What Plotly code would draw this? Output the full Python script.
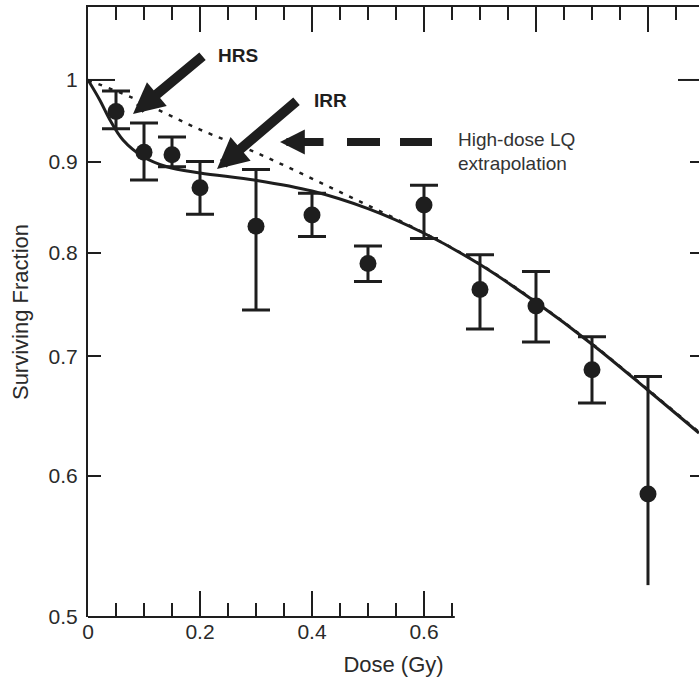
import math
import plotly.graph_objects as go

# Measured surviving fractions with asymmetric error limits
dose = [0.05, 0.10, 0.15, 0.20, 0.30, 0.40, 0.50, 0.60, 0.70, 0.80, 0.90, 1.00]
sf = [0.960, 0.911, 0.908, 0.870, 0.828, 0.840, 0.789, 0.851, 0.763, 0.747, 0.688, 0.586]
sf_upper = [0.986, 0.946, 0.929, 0.900, 0.891, 0.864, 0.807, 0.873, 0.798, 0.781, 0.718, 0.682]
sf_lower = [0.939, 0.879, 0.894, 0.841, 0.743, 0.817, 0.771, 0.815, 0.725, 0.713, 0.659, 0.521]

# Induced-repair model fit (solid curve)
ir_dose = [0.0, 0.021, 0.039, 0.0625, 0.098, 0.141, 0.20, 0.30, 0.40, 0.50,
           0.60, 0.70, 0.80, 0.90, 1.00, 1.0911]
ir_sf = [1.000, 0.9745, 0.950, 0.9255, 0.906, 0.894, 0.8869, 0.8785, 0.8665, 0.847,
         0.8205, 0.788, 0.7505, 0.711, 0.670, 0.634]

# High-dose LQ extrapolation (dotted curve)
lq_dose = [0.0, 0.08, 0.141, 0.20, 0.30, 0.40, 0.50, 0.60, 0.70, 0.80, 0.90, 1.00, 1.0911]
lq_sf = [1.000, 0.977, 0.957, 0.938, 0.9105, 0.8805, 0.8505, 0.8208, 0.7885,
         0.751, 0.7115, 0.6705, 0.6348]

x_major_bottom = [0, 0.2, 0.4, 0.6]
x_minor_bottom = [0.05, 0.10, 0.15, 0.25, 0.30, 0.35, 0.45, 0.50, 0.55, 0.65]
x_major_top = [0.2, 0.4, 0.6, 0.8, 1.0]
x_minor_top = [0.05, 0.10, 0.15, 0.25, 0.30, 0.35, 0.45, 0.50, 0.55, 0.65,
               0.70, 0.75, 0.85, 0.90, 0.95, 1.05]
y_ticks = [0.5, 0.6, 0.7, 0.8, 0.9, 1.0]
y_ticktext = ["0.5", "0.6", "0.7", "0.8", "0.9", "1"]

X_RANGE = [0, 1.0911]
Y_LOG_RANGE = [math.log10(0.5), math.log10(0.5) + 0.34193]
INK = "#1e1e1e"
TEXT = "#2a2a2a"
FONT = "Liberation Sans, Arial, Helvetica, sans-serif"

W, H = 699, 684
ML, MR, MT, MB = 88, 0, 7, 67
PW, PH = W - ML - MR, H - MT - MB


def px_x(p):
    return (p - ML) / PW


def px_y(p):
    return (H - MB - p) / PH


def paper_y_of(v):
    return (math.log10(v) - Y_LOG_RANGE[0]) / (Y_LOG_RANGE[1] - Y_LOG_RANGE[0])


err_plus = [u - s for u, s in zip(sf_upper, sf)]
err_minus = [s - l for s, l in zip(sf, sf_lower)]

fig = go.Figure()

fig.add_trace(go.Scatter(
    x=lq_dose, y=lq_sf, mode="lines",
    line=dict(color=INK, width=2.5, dash="4px,7px", shape="spline"),
    hoverinfo="skip", showlegend=False))

fig.add_trace(go.Scatter(
    x=ir_dose, y=ir_sf, mode="lines",
    line=dict(color=INK, width=3, shape="spline"),
    hoverinfo="skip", showlegend=False))

# all points but the last carry capped error bars
fig.add_trace(go.Scatter(
    x=dose[:-1], y=sf[:-1], mode="markers",
    marker=dict(color=INK, size=17),
    error_y=dict(type="data", symmetric=False, array=err_plus[:-1],
                 arrayminus=err_minus[:-1], color=INK, thickness=3, width=14),
    showlegend=False))

# last point: full whisker without caps, plus an upper cap only
fig.add_trace(go.Scatter(
    x=dose[-1:], y=sf_upper[-1:], mode="markers",
    marker=dict(size=1, opacity=0),
    error_y=dict(type="data", symmetric=False, array=[0], arrayminus=[0],
                 color=INK, thickness=3, width=14),
    hoverinfo="skip", showlegend=False))
fig.add_trace(go.Scatter(
    x=dose[-1:], y=sf[-1:], mode="markers",
    marker=dict(color=INK, size=17),
    error_y=dict(type="data", symmetric=False, array=err_plus[-1:],
                 arrayminus=err_minus[-1:], color=INK, thickness=3, width=0),
    showlegend=False))

# carrier for the top and right tick axes
fig.add_trace(go.Scatter(x=[], y=[], xaxis="x2", yaxis="y2",
                         hoverinfo="skip", showlegend=False))

shapes = [
    # bottom axis line stops just past 0.65
    dict(type="line", xref="x", yref="paper", x0=0, x1=0.655, y0=0, y1=0,
         line=dict(color=INK, width=2)),
    # long tick at 1 on both sides
    dict(type="line", xref="paper", yref="paper", x0=0, x1=27 / PW,
         y0=paper_y_of(1.0), y1=paper_y_of(1.0), line=dict(color=INK, width=2)),
    dict(type="line", xref="paper", yref="paper", x0=1 - 21 / PW, x1=1,
         y0=paper_y_of(1.0), y1=paper_y_of(1.0), line=dict(color=INK, width=2)),
    # dashed tail of the LQ arrow
    dict(type="line", xref="paper", yref="paper", x0=px_x(347), x1=px_x(380),
         y0=px_y(142), y1=px_y(142), line=dict(color=INK, width=8)),
    dict(type="line", xref="paper", yref="paper", x0=px_x(400), x1=px_x(432),
         y0=px_y(142), y1=px_y(142), line=dict(color=INK, width=8)),
]

annotations = [
    # HRS arrow
    dict(xref="paper", yref="paper", x=px_x(133), y=px_y(114), text="",
         showarrow=True, ax=71, ay=-59, arrowhead=2, arrowwidth=10,
         arrowsize=0.62, arrowcolor=INK, standoff=0),
    # IRR arrow
    dict(xref="paper", yref="paper", x=px_x(217), y=px_y(169), text="",
         showarrow=True, ax=81, ay=-69, arrowhead=2, arrowwidth=10,
         arrowsize=0.62, arrowcolor=INK, standoff=0),
    # head of the LQ arrow
    dict(xref="paper", yref="paper", x=px_x(280), y=px_y(142), text="",
         showarrow=True, ax=45, ay=0, arrowhead=2, arrowwidth=8,
         arrowsize=0.62, arrowcolor=INK, standoff=0),
    dict(xref="paper", yref="paper", x=px_x(216), y=px_y(55), text="<b>HRS</b>",
         showarrow=False, xanchor="left", yanchor="middle",
         font=dict(family=FONT, size=19, color=INK)),
    dict(xref="paper", yref="paper", x=px_x(312), y=px_y(100), text="<b>IRR</b>",
         showarrow=False, xanchor="left", yanchor="middle",
         font=dict(family=FONT, size=19, color=INK)),
    dict(xref="paper", yref="paper", x=px_x(456), y=px_y(140), text="High-dose LQ",
         showarrow=False, xanchor="left", yanchor="middle",
         font=dict(family=FONT, size=19, color="#333333")),
    dict(xref="paper", yref="paper", x=px_x(456), y=px_y(163), text="extrapolation",
         showarrow=False, xanchor="left", yanchor="middle",
         font=dict(family=FONT, size=19, color="#333333")),
]

fig.update_layout(
    template="none",
    width=W, height=H,
    margin=dict(l=ML, r=MR, t=MT, b=MB, pad=0),
    paper_bgcolor="white", plot_bgcolor="white",
    font=dict(family=FONT, color=INK),
    showlegend=False,
    xaxis=dict(
        range=X_RANGE, tickmode="array", tickvals=x_major_bottom,
        ticktext=["0", "0.2", "0.4", "0.6"],
        ticks="inside", ticklen=26, tickwidth=2, tickcolor=INK,
        minor=dict(tickmode="array", tickvals=x_minor_bottom, ticks="inside",
                   ticklen=14, tickwidth=2, tickcolor=INK, showgrid=False),
        showline=False, showgrid=False, zeroline=False, automargin=False,
        tickfont=dict(family=FONT, size=21, color=TEXT),
        title=dict(text="Dose (Gy)", standoff=14,
                   font=dict(family=FONT, size=22, color=TEXT)),
    ),
    xaxis2=dict(
        overlaying="x", side="top", anchor="y", range=X_RANGE,
        tickmode="array", tickvals=x_major_top, showticklabels=False,
        ticks="inside", ticklen=25, tickwidth=2, tickcolor=INK,
        minor=dict(tickmode="array", tickvals=x_minor_top, ticks="inside",
                   ticklen=13, tickwidth=2, tickcolor=INK, showgrid=False),
        showline=True, linewidth=2, linecolor=INK,
        showgrid=False, zeroline=False, automargin=False,
    ),
    yaxis=dict(
        type="log", range=Y_LOG_RANGE, tickmode="array",
        tickvals=y_ticks, ticktext=y_ticktext,
        ticks="inside", ticklen=13, tickwidth=2, tickcolor=INK,
        showline=True, linewidth=2, linecolor=INK,
        showgrid=False, zeroline=False, automargin=False,
        ticklabelstandoff=4,
        tickfont=dict(family=FONT, size=21, color=TEXT),
        title=dict(text="Surviving Fraction", standoff=14,
                   font=dict(family=FONT, size=22, color=TEXT)),
    ),
    yaxis2=dict(
        type="log", range=Y_LOG_RANGE, overlaying="y", side="right", anchor="x",
        tickmode="array", tickvals=[0.6, 0.7, 0.8, 0.9], showticklabels=False,
        ticks="inside", ticklen=9, tickwidth=2, tickcolor=INK,
        showline=False, showgrid=False, zeroline=False, automargin=False,
    ),
    shapes=shapes,
    annotations=annotations,
)

fig.write_html("out.html")
